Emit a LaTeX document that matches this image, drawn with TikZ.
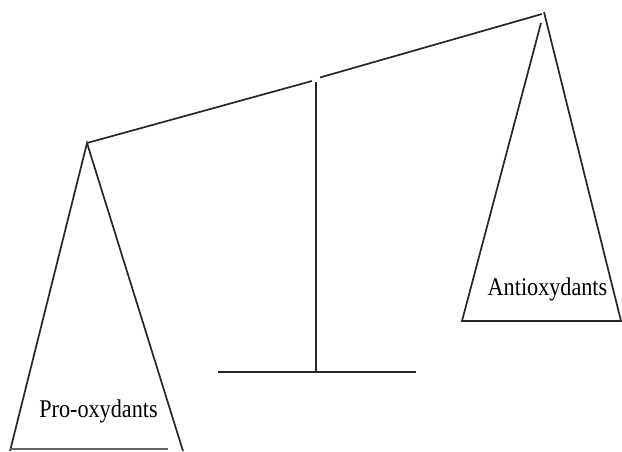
\documentclass[tikz,border=0pt]{standalone}
\usepackage{fontspec}
\setmainfont{Liberation Serif}
\begin{document}
\begin{tikzpicture}[x=1pt,y=-1pt,
  ln/.style={line width=1.7pt,draw=black!85},
  lbl/.style={font=\fontsize{25.5}{28}\selectfont,anchor=base,inner sep=0pt,xscale=0.87}]
\useasboundingbox (0,0) rectangle (622,451);
% named points
\coordinate (la) at (87,143);
\coordinate (ll) at (10,451);
\coordinate (lr) at (183,451);
\coordinate (bl) at (10,449);
\coordinate (br) at (168,449);
\coordinate (ra) at (542,14);
\coordinate (rr0) at (544,12);
\coordinate (rl0) at (541,23);
\coordinate (rl) at (462,321);
\coordinate (rr) at (621,321);
\coordinate (g1) at (312,81);
\coordinate (g2) at (320,77.5);
\coordinate (pt) at (316,82);
\coordinate (pb) at (316,372);
\coordinate (b1) at (218,372);
\coordinate (b2) at (416,372);
% beam
\draw[ln] (la) -- (g1);
\draw[ln] (g2) -- (ra);
% post and base
\draw[ln] (pt) -- (pb);
\draw[ln] (b1) -- (b2);
% left pan
\draw[ln] (ll) -- (la) -- (lr);
\draw[ln,draw=black!60] (bl) -- (br);
% right pan
\draw[ln] (rr0) -- (rr) -- (rl) -- (rl0);
% labels
\node[lbl] (pro) at (98.5,417) {Pro-oxydants};
\node[lbl] (anti) at (547.5,295) {Antioxydants};
\end{tikzpicture}
\end{document}
